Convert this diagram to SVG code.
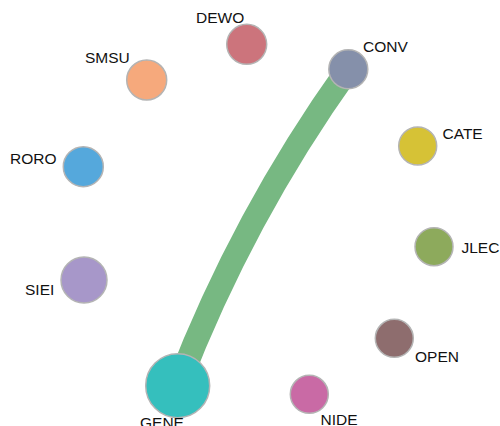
<svg xmlns="http://www.w3.org/2000/svg" width="500" height="426" viewBox="0 0 500 426">
<style>
.n{stroke:#b4b4b4;stroke-width:1.5}
.l{font-family:"Liberation Sans",Arial,sans-serif;font-size:15.5px;fill:#111}
.e{fill:none;stroke:#77b882;stroke-width:24}
</style>
<rect width="500" height="426" fill="#fff"/>
<g id="connectors">
<path class="e" d="M177.7,385.7 Q242.8,216.6 348.3,69.3"/>
</g>
<g id="DEWO"><circle class="n" cx="246.7" cy="44.3" r="20" fill="#cc747c"/><text class="l" x="196" y="23">DEWO</text></g>
<g id="CONV"><circle class="n" cx="348.3" cy="69.3" r="19.5" fill="#8590aa"/><text class="l" x="363" y="52">CONV</text></g>
<g id="SMSU"><circle class="n" cx="146.7" cy="80" r="20" fill="#f6a97c"/><text class="l" x="85" y="63">SMSU</text></g>
<g id="RORO"><circle class="n" cx="83.3" cy="166.7" r="20" fill="#55a8dc"/><text class="l" x="10" y="164">RORO</text></g>
<g id="SIEI"><circle class="n" cx="84" cy="280" r="23" fill="#a797c9"/><text class="l" x="25" y="295">SIEI</text></g>
<g id="CATE"><circle class="n" cx="417.7" cy="146" r="19" fill="#d6c236"/><text class="l" x="442.5" y="139">CATE</text></g>
<g id="JLEC"><circle class="n" cx="434" cy="246.7" r="19" fill="#8daa5c"/><text class="l" x="461.5" y="253">JLEC</text></g>
<g id="OPEN"><circle class="n" cx="394.3" cy="338.3" r="19" fill="#8e6d6e"/><text class="l" x="415" y="362">OPEN</text></g>
<g id="NIDE"><circle class="n" cx="309.3" cy="394.3" r="19" fill="#c96aa5"/><text class="l" x="320.5" y="425">NIDE</text></g>
<g id="GENE"><circle class="n" cx="177.7" cy="385.7" r="32" fill="#35bfbd"/><text class="l" x="140" y="428">GENE</text></g>
</svg>
